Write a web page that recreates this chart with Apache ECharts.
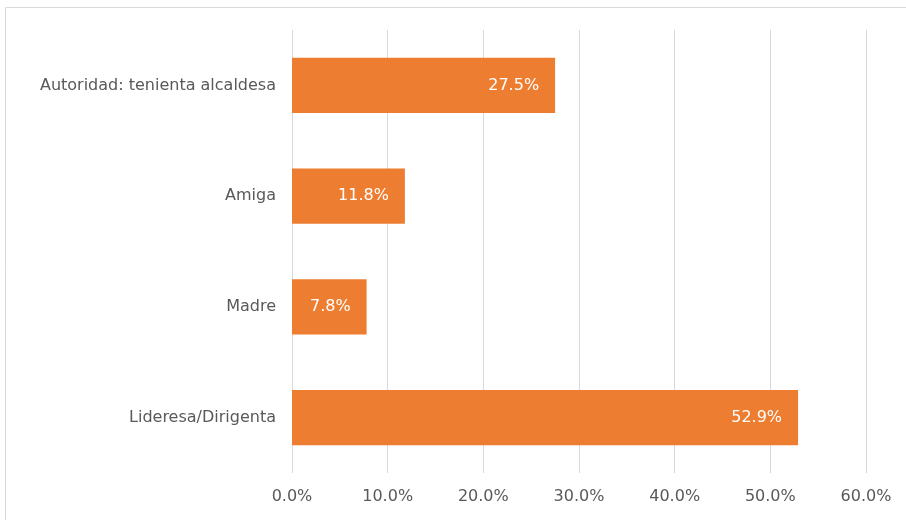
<!DOCTYPE html>
<html>
<head>
<meta charset="utf-8">
<script src="https://cdn.jsdelivr.net/npm/echarts@6/dist/echarts.min.js"></script>
<style>
  html, body { margin: 0; padding: 0; background: #fff; }
  #chart { width: 906px; height: 520px; }
</style>
</head>
<body>
<div id="chart"></div>
<script>
// categories listed bottom to top (category axis runs upward)
var categories = ["Lideresa/Dirigenta", "Madre", "Amiga", "Autoridad: tenienta alcaldesa"];
var values = [52.9, 7.8, 11.8, 27.5];
var ticks = [0, 10, 20, 30, 40, 50, 60];

var chart = echarts.init(document.getElementById("chart"));
var option = {
  animation: false,
  textStyle: { fontFamily: "DejaVu Sans" },
  graphic: [{
    type: "rect",
    shape: { x: 5.5, y: 7.5, width: 910, height: 530 },
    style: { fill: null, stroke: "#d9d9d9", lineWidth: 1 }
  }],
  grid: { left: 292, right: 40, top: 30, bottom: 47 },
  xAxis: {
    type: "value",
    min: ticks[0],
    max: ticks[ticks.length - 1],
    interval: 10,
    axisLine: { show: false },
    axisTick: { show: false },
    splitLine: { lineStyle: { color: "#d9d9d9" } },
    axisLabel: {
      color: "#595959",
      fontSize: 16,
      margin: 16,
      formatter: function (v) { return v.toFixed(1) + "%"; }
    }
  },
  yAxis: {
    type: "category",
    data: categories,
    axisLine: { show: false },
    axisTick: { show: false },
    axisLabel: { color: "#595959", fontSize: 16, margin: 16 }
  },
  series: [{
    type: "bar",
    data: values,
    barCategoryGap: "50%",
    itemStyle: { color: "#ED7D31" },
    label: {
      show: true,
      position: "insideRight",
      distance: 16,
      color: "#fff",
      fontSize: 16,
      formatter: function (p) { return p.value.toFixed(1) + "%"; }
    }
  }]
};
chart.setOption(option);
</script>
</body>
</html>
